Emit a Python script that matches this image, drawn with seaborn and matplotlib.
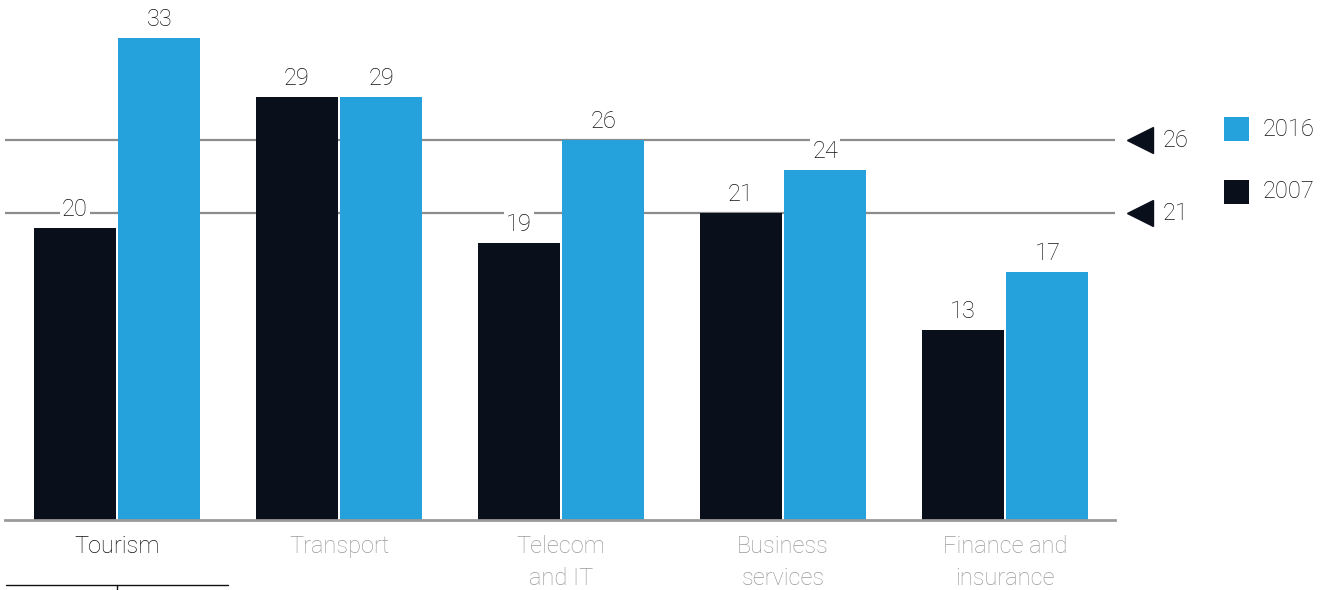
import matplotlib
matplotlib.use('Agg')

import matplotlib.pyplot as plt
import matplotlib.transforms as mtransforms
from matplotlib.patches import Rectangle
import seaborn as sns
import pandas as pd

# data
sectors = ['Tourism', 'Transport', 'Telecom\nand IT', 'Business\nservices', 'Finance and\ninsurance']
years = ['2007', '2016']
values_2007 = [20, 29, 19, 21, 13]
values_2016 = [33, 29, 26, 24, 17]
average_2016 = 26
average_2007 = 21

DARK = '#0a101b'
BLUE = '#25a1dc'
GREY_LINE = '#8c8c8c'
GREY_TEXT = '#9a9a9a'

sns.set_style('white')
plt.rcParams['font.family'] = ['Roboto', 'DejaVu Sans']

df = pd.DataFrame({
    'sector': sectors * 2,
    'year': [years[0]] * len(sectors) + [years[1]] * len(sectors),
    'value': values_2007 + values_2016,
})

fig = plt.figure(figsize=(13.38, 5.90), dpi=100)
ax = fig.add_axes([5 / 1338, 1 - 520 / 590, 1110 / 1338, 520 / 590])

sns.barplot(data=df, x='sector', y='value', hue='year', order=sectors,
            hue_order=years, palette=[DARK, BLUE], width=0.76, gap=0.03,
            linewidth=0, saturation=1, legend=False, ax=ax)

ax.set_xlim(-0.505, 4.495)
ax.set_ylim(0, 520 / 14.6)

# average lines
for avg in [average_2016, average_2007]:
    ax.axhline(avg, color=GREY_LINE, lw=1.6, zorder=0.5)

# bar labels with white background so they cut the grey lines
for cont in ax.containers:
    labels = ax.bar_label(cont, padding=5, fontsize=17, fontweight='light', color='#111111')
    for t in labels:
        t.set_bbox(dict(facecolor='white', edgecolor='none', pad=1.5))
        t.set_zorder(3)

# axis styling
for side in ['top', 'right', 'left']:
    ax.spines[side].set_visible(False)
ax.spines['bottom'].set_color('#9a9a9a')
ax.spines['bottom'].set_linewidth(2)
ax.set_yticks([])
ax.set_xlabel('')
ax.set_ylabel('')
ax.tick_params(axis='x', length=0, pad=11)
ax.set_xticks(range(len(sectors)))
ax.set_xticklabels(sectors, fontsize=17, fontweight='light', linespacing=1.5, va='top')
for i, lab in enumerate(ax.get_xticklabels()):
    lab.set_color('#111111' if i == 0 else GREY_TEXT)

# triangle markers for the averages
blend = mtransforms.blended_transform_factory(fig.transFigure, ax.transData)
for avg in [average_2016, average_2007]:
    ax.plot([1140 / 1338], [avg], marker='<', markersize=19, color=DARK,
            transform=blend, clip_on=False, linestyle='none')
    ax.text(1163 / 1338, avg, str(avg), transform=blend, fontsize=17,
            fontweight='light', va='center', ha='left', color='#111111')

# legend drawn by hand
for yc, col, lab in [(129, BLUE, years[1]), (192, DARK, years[0])]:
    fig.patches.append(Rectangle((1224 / 1338, 1 - (yc + 12) / 590), 25 / 1338, 24 / 590,
                                 transform=fig.transFigure, facecolor=col, edgecolor='none'))
    fig.text(1263 / 1338, 1 - yc / 590, lab, fontsize=17, fontweight='light',
             va='center', ha='left', color='#111111')

# tab indicator under the first label
fig.add_artist(plt.Line2D([6 / 1338, 228 / 1338], [1 - 585 / 590] * 2,
                          color='#111111', lw=1, transform=fig.transFigure))
fig.add_artist(plt.Line2D([117 / 1338, 117 / 1338], [1 - 585 / 590, 0],
                          color='#111111', lw=1, transform=fig.transFigure))

fig.savefig('out.png', dpi=100, facecolor='white')
